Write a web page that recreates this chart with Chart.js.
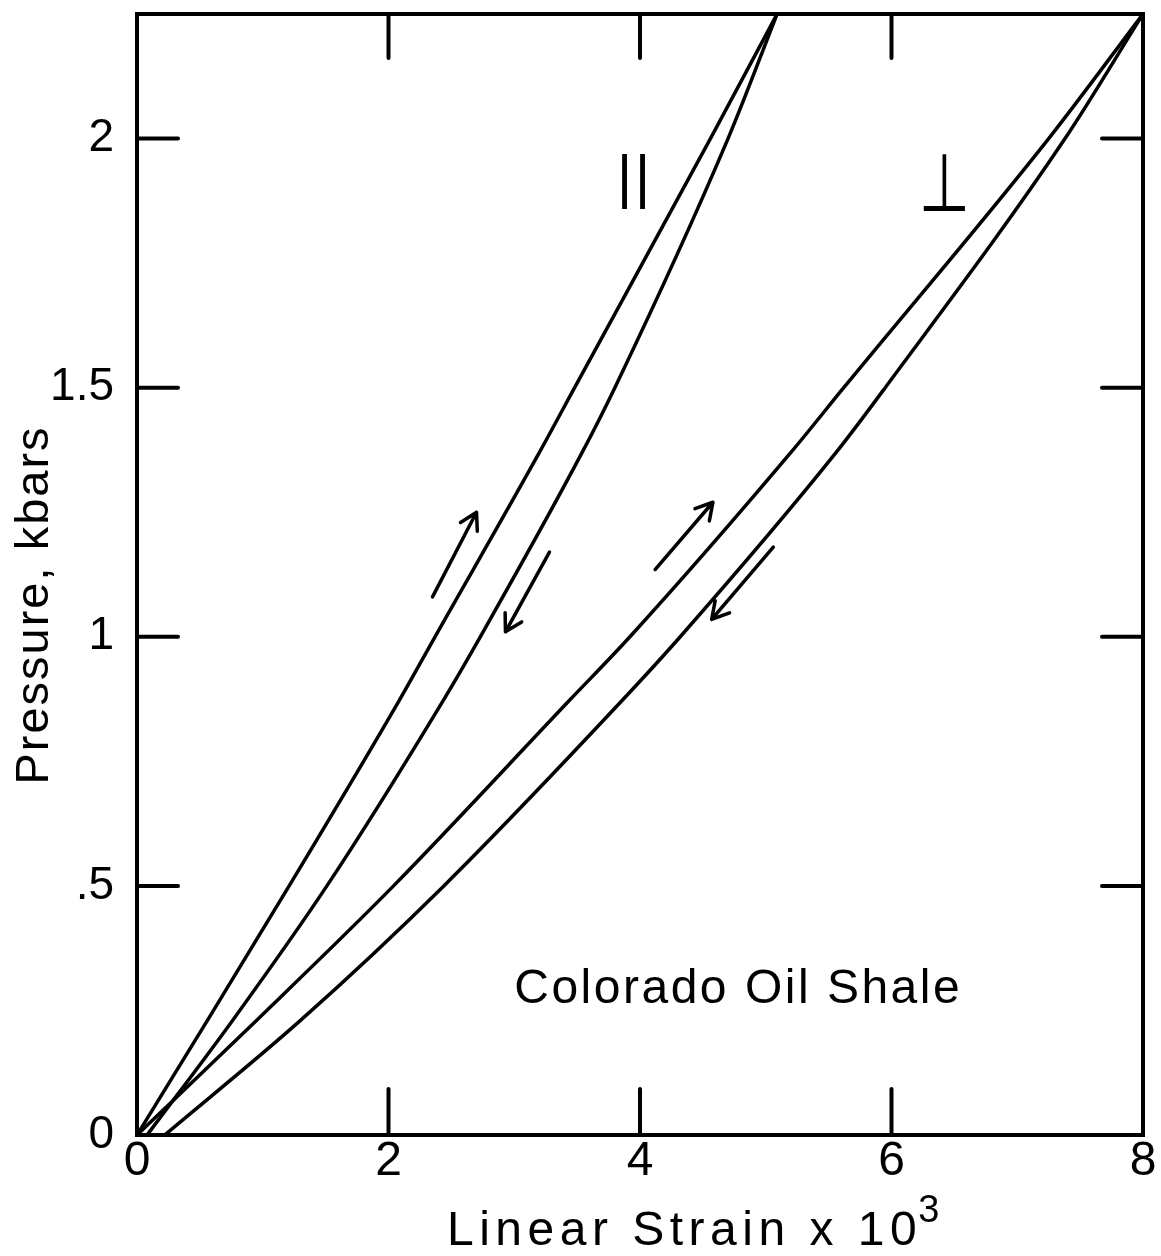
<!DOCTYPE html>
<html>
<head>
<meta charset="utf-8">
<title>Colorado Oil Shale</title>
<script src="https://cdn.jsdelivr.net/npm/chart.js@4.4.1/dist/chart.umd.min.js"></script>
<style>
  html, body { margin: 0; padding: 0; background: #fff; }
  #grafico { display: block; }
</style>
</head>
<body>
<canvas id="grafico" width="1161" height="1256"></canvas>
<script>
const strainTicks = [0, 2, 4, 6, 8];
const strainTickLabels = ["0", "2", "4", "6", "8"];
const pressureTicks = [0, 0.5, 1, 1.5, 2];
const pressureTickLabels = ["0", ".5", "1", "1.5", "2"];

// pressure (kbar) at each reading
const pressure = [0, 0.23, 0.5, 0.87, 1.0, 1.37, 1.5, 2.0, 2.25];
// linear strain x 10^3, loading and unloading, parallel and perpendicular to bedding
const parallelUp = [0, 0.56, 1.21, 2.08, 2.37, 3.2, 3.48, 4.56, 5.09];
const parallelDown = [0.08, 0.76, 1.51, 2.43, 2.73, 3.54, 3.8, 4.7, 5.09];
const perpUp = [0, 0.95, 2.04, 3.43, 3.92, 5.2, 5.62, 7.25, 8.0];
const perpDown = [0.22, 1.3, 2.44, 3.85, 4.32, 5.56, 5.95, 7.38, 8.0];

// direction arrows: strain/pressure of tail, then of head
const arrowTails = [[2.35, 1.08], [3.28, 1.17], [4.12, 1.135], [5.06, 1.18]];
const arrowHeads = [[2.7, 1.25], [2.93, 1.01], [4.58, 1.27], [4.57, 1.035]];

const FONT = "'Liberation Sans', Arial, sans-serif";

function pts(xs) {
  return xs.map((x, i) => ({ x, y: pressure[i] }));
}

function curve(xs) {
  return {
    data: pts(xs),
    showLine: true,
    borderColor: "#000",
    borderWidth: 3.5,
    pointRadius: 0,
    cubicInterpolationMode: "monotone",
    fill: false,
  };
}

// box round the plot with inward ticks on all four sides
const marco = {
  id: "marco",
  afterDatasetsDraw(chart) {
    const { ctx, chartArea: a, scales } = chart;
    ctx.save();
    ctx.strokeStyle = "#000";
    ctx.lineWidth = 4;
    ctx.strokeRect(a.left, a.top, a.right - a.left, a.bottom - a.top);
    ctx.lineCap = "round";
    ctx.beginPath();
    strainTicks.slice(1, -1).forEach((v) => {
      const x = scales.x.getPixelForValue(v);
      ctx.moveTo(x, a.bottom);
      ctx.lineTo(x, a.bottom - 46);
      ctx.moveTo(x, a.top);
      ctx.lineTo(x, a.top + 44);
    });
    pressureTicks.slice(1).forEach((v) => {
      const y = scales.y.getPixelForValue(v);
      ctx.moveTo(a.left, y);
      ctx.lineTo(a.left + 41, y);
      ctx.moveTo(a.right, y);
      ctx.lineTo(a.right - 41, y);
    });
    ctx.stroke();
    ctx.restore();
  },
};

function flecha(ctx, x1, y1, x2, y2) {
  const ang = Math.atan2(y1 - y2, x1 - x2);
  const len = 19;
  const abre = 0.52;
  ctx.beginPath();
  ctx.moveTo(x1, y1);
  ctx.lineTo(x2, y2);
  ctx.moveTo(x2 + len * Math.cos(ang - abre), y2 + len * Math.sin(ang - abre));
  ctx.lineTo(x2, y2);
  ctx.lineTo(x2 + len * Math.cos(ang + abre), y2 + len * Math.sin(ang + abre));
  ctx.stroke();
}

// arrows, curve symbols, sample name and axis titles
const notas = {
  id: "notas",
  afterDraw(chart) {
    const { ctx, scales } = chart;
    const px = (v) => scales.x.getPixelForValue(v);
    const py = (v) => scales.y.getPixelForValue(v);
    ctx.save();
    ctx.strokeStyle = "#000";
    ctx.fillStyle = "#000";
    ctx.lineWidth = 3.5;
    ctx.lineCap = "round";
    ctx.lineJoin = "round";
    arrowTails.forEach((t, i) => {
      const h = arrowHeads[i];
      flecha(ctx, px(t[0]), py(t[1]), px(h[0]), py(h[1]));
    });

    // bedding symbols
    ctx.textAlign = "center";
    ctx.textBaseline = "alphabetic";
    ctx.font = "60px " + FONT;
    ctx.letterSpacing = "2.5px";
    ctx.fillText("||", px(3.95) + 1, py(1.882));
    ctx.letterSpacing = "0px";
    ctx.save();
    ctx.font = "56px 'DejaVu Sans'";
    ctx.translate(px(6.42), py(1.855));
    ctx.scale(1.05, 1.45);
    ctx.fillText("\u22A5", 0, 0);
    ctx.restore();

    ctx.letterSpacing = "2.5px";
    ctx.textAlign = "left";
    ctx.font = "48px " + FONT;
    ctx.fillText("Colorado Oil Shale", px(3.0), py(0.265));

    // x title with raised exponent
    ctx.letterSpacing = "5.5px";
    const base = "Linear Strain x 10";
    const w = ctx.measureText(base).width;
    const x0 = 447;
    ctx.fillText(base, x0, 1245);
    ctx.font = "38px " + FONT;
    ctx.letterSpacing = "0px";
    ctx.fillText("3", x0 + w - 4, 1222);

    // y title
    ctx.font = "47px " + FONT;
    ctx.letterSpacing = "2px";
    ctx.translate(48, 605);
    ctx.rotate(-Math.PI / 2);
    ctx.textAlign = "center";
    ctx.fillText("Pressure, kbars", 0, 0);
    ctx.restore();
  },
};

new Chart(document.getElementById("grafico").getContext("2d"), {
  type: "scatter",
  data: {
    datasets: [curve(parallelUp), curve(parallelDown), curve(perpUp), curve(perpDown)],
  },
  options: {
    responsive: false,
    animation: false,
    layout: { padding: { top: 14, right: 18, left: 0, bottom: 0 } },
    plugins: { legend: { display: false }, tooltip: { enabled: false } },
    scales: {
      x: {
        type: "linear",
        min: 0,
        max: 8,
        afterBuildTicks: (s) => {
          s.ticks = strainTicks.map((v) => ({ value: v }));
        },
        afterFit: (s) => {
          s.height = 121;
          s.paddingLeft = 0;
          s.paddingRight = 0;
        },
        grid: { display: false },
        border: { display: false },
        ticks: {
          autoSkip: false,
          maxRotation: 0,
          padding: -10,
          color: "#000",
          font: { family: FONT, size: 48 },
          callback: (v) => strainTickLabels[strainTicks.indexOf(v)],
        },
      },
      y: {
        type: "linear",
        min: 0,
        max: 2.25,
        afterBuildTicks: (s) => {
          s.ticks = pressureTicks.map((v) => ({ value: v }));
        },
        afterFit: (s) => {
          s.width = 137;
          s.paddingTop = 0;
          s.paddingBottom = 0;
        },
        grid: { display: false },
        border: { display: false },
        ticks: {
          autoSkip: false,
          padding: 15,
          color: "#000",
          font: { family: FONT, size: 46 },
          callback: (v) => pressureTickLabels[pressureTicks.indexOf(v)],
        },
      },
    },
  },
  plugins: [marco, notas],
});
</script>
</body>
</html>
